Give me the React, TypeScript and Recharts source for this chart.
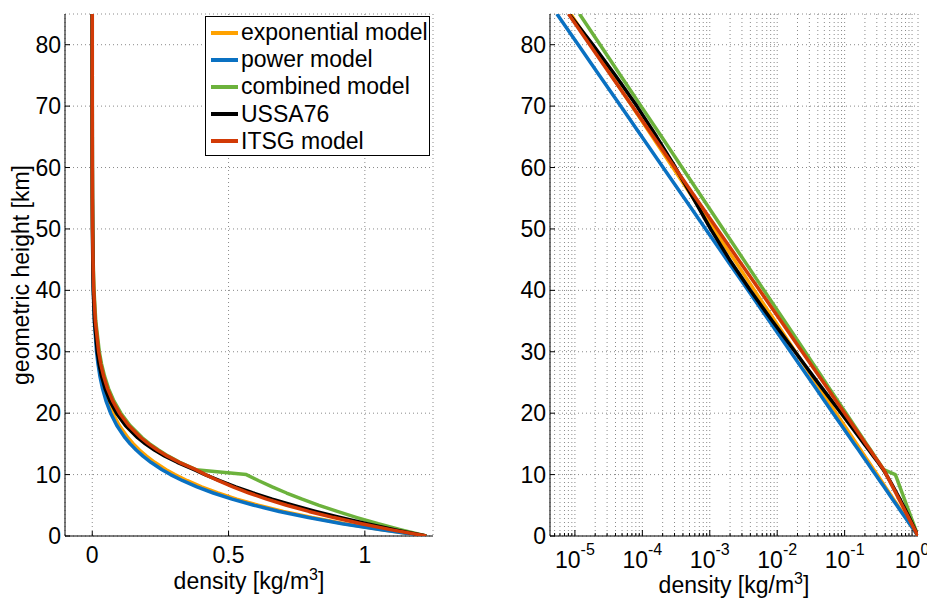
import { CartesianGrid, Legend, Scatter, ScatterChart, XAxis, YAxis } from 'recharts';

const heights = [
  0, 1, 2, 3, 4, 5, 6, 7, 8, 9, 10, 10.8, 12, 13, 14, 15, 16, 18, 20, 22, 24, 26, 28, 30, 35, 40, 45, 50,
  55, 60, 65, 70, 75, 80, 85,
];

const expDensity = [
  1.225, 1.065, 0.926, 0.806, 0.701, 0.609, 0.53, 0.461, 0.401, 0.349, 0.303, 0.271, 0.229, 0.199, 0.173,
  0.151, 0.131, 0.0992, 0.0751, 0.0568, 0.043, 0.0325, 0.0246, 0.0186, 0.00927, 0.00461, 0.0023, 0.00114,
  0.000569, 0.000283, 0.000141, 0.0000702, 0.0000349, 0.0000174, 0.00000865,
];

const powerDensity = [
  1.225, 1.06, 0.917, 0.793, 0.686, 0.593, 0.513, 0.444, 0.384, 0.332, 0.287, 0.256, 0.215, 0.186, 0.161,
  0.139, 0.12, 0.09, 0.0673, 0.0504, 0.0377, 0.0282, 0.0211, 0.0158, 0.00764, 0.0037, 0.00179, 0.000867,
  0.00042, 0.000203, 0.0000984, 0.0000477, 0.0000231, 0.0000112, 0.00000541,
];

const combinedDensity = [
  1.225, 1.134, 1.049, 0.971, 0.899, 0.832, 0.77, 0.713, 0.66, 0.611, 0.565, 0.38, 0.321, 0.279, 0.243,
  0.211, 0.1835, 0.1387, 0.105, 0.0793, 0.0598, 0.0453, 0.0342, 0.0259, 0.01285, 0.00638, 0.00317,
  0.001574, 0.000782, 0.000388, 0.000193, 0.0000957, 0.0000475, 0.0000236, 0.0000117,
];

const ussaDensity = [
  1.225, 1.112, 1.007, 0.9093, 0.8194, 0.7364, 0.6601, 0.59, 0.5258, 0.4671, 0.4135, 0.374, 0.3119, 0.2666,
  0.2279, 0.1948, 0.1665, 0.1217, 0.08891, 0.06451, 0.04694, 0.03426, 0.02508, 0.01841, 0.008463, 0.003996,
  0.001966, 0.001027, 0.0005681, 0.0003097, 0.0001632, 0.00008283, 0.00003992, 0.00001846, 0.00000821,
];

const itsgDensity = [
  1.225, 1.099, 0.987, 0.886, 0.795, 0.713, 0.64, 0.575, 0.516, 0.463, 0.415, 0.38, 0.319, 0.276, 0.239,
  0.2066, 0.1786, 0.1337, 0.1, 0.0748, 0.056, 0.0419, 0.0313, 0.02344, 0.01135, 0.0055, 0.00266, 0.00129,
  0.000624, 0.000302, 0.000146, 0.0000708, 0.0000343, 0.0000166, 0.00000804,
];

const seriesNames = ['exponential model', 'power model', 'combined model', 'USSA76', 'ITSG model'];
const seriesColors = ['#ffa200', '#0a71c2', '#6cb23c', '#000000', '#d23a06'];
const seriesDensity = [expDensity, powerDensity, combinedDensity, ussaDensity, itsgDensity];

const heightTicks = [0, 10, 20, 30, 40, 50, 60, 70, 80];
const linearTicks = [0, 0.5, 1];
const logTicks = [
  5e-6, 6e-6, 7e-6, 8e-6, 9e-6,
  1e-5, 2e-5, 3e-5, 4e-5, 5e-5, 6e-5, 7e-5, 8e-5, 9e-5,
  1e-4, 2e-4, 3e-4, 4e-4, 5e-4, 6e-4, 7e-4, 8e-4, 9e-4,
  1e-3, 2e-3, 3e-3, 4e-3, 5e-3, 6e-3, 7e-3, 8e-3, 9e-3,
  1e-2, 2e-2, 3e-2, 4e-2, 5e-2, 6e-2, 7e-2, 8e-2, 9e-2,
  1e-1, 2e-1, 3e-1, 4e-1, 5e-1, 6e-1, 7e-1, 8e-1, 9e-1,
  1,
];

const FONT = '"Liberation Sans", Arial, Helvetica, sans-serif';
const FS = 23;

const series = seriesNames.map((name, i) => ({
  name,
  color: seriesColors[i],
  points: heights.map((h, j) => ({ h, rho: seriesDensity[i][j] })),
}));

const isMajor = (v: number) => Math.abs(Math.log10(v) - Math.round(Math.log10(v))) < 1e-6;

const NoDot = () => <g />;

function LeftYTick({ x, y, payload }: any) {
  return (
    <g>
      <line x1={x} x2={x + 5} y1={y} y2={y} stroke='#000' />
      <text x={x - 4} y={y + 8} textAnchor='end' fontSize={FS} fontFamily={FONT} fill='#000'>
        {payload.value}
      </text>
    </g>
  );
}

function RightYTick({ x, y }: any) {
  return <line x1={x} x2={x - 5} y1={y} y2={y} stroke='#000' />;
}

function LinearXTick({ x, y, payload }: any) {
  return (
    <g>
      <line x1={x} x2={x} y1={y} y2={y - 5} stroke='#000' />
      <text x={x} y={y + 27} textAnchor='middle' fontSize={FS} fontFamily={FONT} fill='#000'>
        {payload.value}
      </text>
    </g>
  );
}

function LinearTopTick({ x, y }: any) {
  return <line x1={x} x2={x} y1={y} y2={y + 5} stroke='#000' />;
}

function LogXTick({ x, y, payload }: any) {
  const major = isMajor(payload.value);
  return (
    <g>
      <line x1={x} x2={x} y1={y} y2={y - (major ? 6 : 3)} stroke='#000' />
      {major && (
        <text x={x} y={y + 32} textAnchor='middle' fontSize={FS} fontFamily={FONT} fill='#000'>
          10
          <tspan dy={-13} fontSize={16}>
            {Math.round(Math.log10(payload.value))}
          </tspan>
        </text>
      )}
    </g>
  );
}

function LogTopTick({ x, y, payload }: any) {
  const major = isMajor(payload.value);
  return <line x1={x} x2={x} y1={y} y2={y + (major ? 6 : 3)} stroke='#000' />;
}

function DensityTitle({ viewBox, dy }: any) {
  return (
    <text x={viewBox.x + viewBox.width / 2} y={viewBox.y + dy} textAnchor='middle' fontSize={FS} fontFamily={FONT} fill='#000'>
      density [kg/m
      <tspan dy={-9} fontSize={16}>
        3
      </tspan>
      <tspan dy={9}>]</tspan>
    </text>
  );
}

function HeightTitle({ viewBox }: any) {
  const x = viewBox.x + 24;
  const y = viewBox.y + viewBox.height / 2;
  return (
    <text x={x} y={y} transform={`rotate(-90 ${x} ${y})`} textAnchor='middle' fontSize={FS} fontFamily={FONT} fill='#000'>
      geometric height [km]
    </text>
  );
}

function LegendBox() {
  return (
    <div
      style={{
        boxSizing: 'border-box',
        width: 225,
        height: 140,
        border: '1.5px solid #000',
        background: '#fff',
        paddingTop: 2,
        fontFamily: FONT,
        fontSize: FS,
        color: '#000',
      }}
    >
      {series.map(s => (
        <div key={s.name} style={{ display: 'flex', alignItems: 'center', height: 27.2 }}>
          <div style={{ width: 27, height: 4, marginLeft: 5, marginRight: 3, background: s.color }} />
          <span style={{ lineHeight: '27px', whiteSpace: 'nowrap' }}>{s.name}</span>
        </div>
      ))}
    </div>
  );
}

const gridProps = { stroke: '#8a8a8a', strokeDasharray: '1 3' };

export default function App() {
  return (
    <div style={{ position: 'absolute', left: 0, top: 0, width: 927, height: 598, background: '#fff' }}>
      <div style={{ position: 'absolute', left: 0, top: 0 }}>
        <ScatterChart width={470} height={598} margin={{ top: 14, right: 37, bottom: 12, left: 5 }}>
          <CartesianGrid {...gridProps} />
          <XAxis
            dataKey='rho'
            type='number'
            domain={[-0.1, 1.25]}
            ticks={linearTicks}
            allowDataOverflow
            height={50}
            tickSize={0}
            tickMargin={0}
            tickLine={false}
            axisLine={{ stroke: '#000' }}
            tick={<LinearXTick />}
            label={{ content: (p: any) => <DensityTitle {...p} dy={53} /> }}
          />
          <XAxis
            xAxisId='top'
            orientation='top'
            type='number'
            domain={[-0.1, 1.25]}
            ticks={linearTicks}
            allowDataOverflow
            height={0}
            tickSize={0}
            tickMargin={0}
            tickLine={false}
            axisLine={{ stroke: '#000' }}
            tick={<LinearTopTick />}
          />
          <YAxis
            dataKey='h'
            type='number'
            domain={[0, 85]}
            ticks={heightTicks}
            allowDataOverflow
            width={60}
            tickSize={0}
            tickMargin={0}
            tickLine={false}
            axisLine={{ stroke: '#000' }}
            tick={<LeftYTick />}
            label={{ content: (p: any) => <HeightTitle {...p} /> }}
          />
          <YAxis
            yAxisId='right'
            orientation='right'
            type='number'
            domain={[0, 85]}
            ticks={heightTicks}
            allowDataOverflow
            width={0}
            tickSize={0}
            tickMargin={0}
            tickLine={false}
            axisLine={{ stroke: '#000' }}
            tick={<RightYTick />}
          />
          {series.map(s => (
            <Scatter
              key={s.name}
              name={s.name}
              data={s.points}
              fill={s.color}
              line={{ stroke: s.color, strokeWidth: 3.5, strokeLinejoin: 'round' }}
              lineJointType='linear'
              shape={<NoDot />}
              isAnimationActive={false}
            />
          ))}
          <Legend
            layout='horizontal'
            verticalAlign='middle'
            align='center'
            content={() => <LegendBox />}
            wrapperStyle={{ position: 'absolute', left: 205, top: 16, width: 225, height: 140 }}
          />
        </ScatterChart>
      </div>
      <div style={{ position: 'absolute', left: 470, top: 0 }}>
        <ScatterChart width={457} height={598} margin={{ top: 14, right: 9, bottom: 12, left: 20 }}>
          <CartesianGrid {...gridProps} />
          <XAxis
            dataKey='rho'
            type='number'
            scale='log'
            domain={[4.27e-6, 1.225]}
            ticks={logTicks}
            allowDataOverflow
            height={50}
            tickSize={0}
            tickMargin={0}
            tickLine={false}
            axisLine={{ stroke: '#000' }}
            tick={<LogXTick />}
            interval={0}
            label={{ content: (p: any) => <DensityTitle {...p} dy={57} /> }}
          />
          <XAxis
            xAxisId='top'
            orientation='top'
            type='number'
            scale='log'
            domain={[4.27e-6, 1.225]}
            ticks={logTicks}
            allowDataOverflow
            height={0}
            tickSize={0}
            tickMargin={0}
            tickLine={false}
            axisLine={{ stroke: '#000' }}
            tick={<LogTopTick />}
            interval={0}
          />
          <YAxis
            dataKey='h'
            type='number'
            domain={[0, 85]}
            ticks={heightTicks}
            allowDataOverflow
            width={60}
            tickSize={0}
            tickMargin={0}
            tickLine={false}
            axisLine={{ stroke: '#000' }}
            tick={<LeftYTick />}
          />
          <YAxis
            yAxisId='right'
            orientation='right'
            type='number'
            domain={[0, 85]}
            ticks={heightTicks}
            allowDataOverflow
            width={0}
            tickSize={0}
            tickMargin={0}
            tickLine={false}
            axisLine={{ stroke: '#000' }}
            tick={<RightYTick />}
          />
          {series.map(s => (
            <Scatter
              key={s.name}
              name={s.name}
              data={s.points}
              fill={s.color}
              line={{ stroke: s.color, strokeWidth: 3.5, strokeLinejoin: 'round' }}
              lineJointType='linear'
              shape={<NoDot />}
              isAnimationActive={false}
            />
          ))}
        </ScatterChart>
      </div>
    </div>
  );
}
